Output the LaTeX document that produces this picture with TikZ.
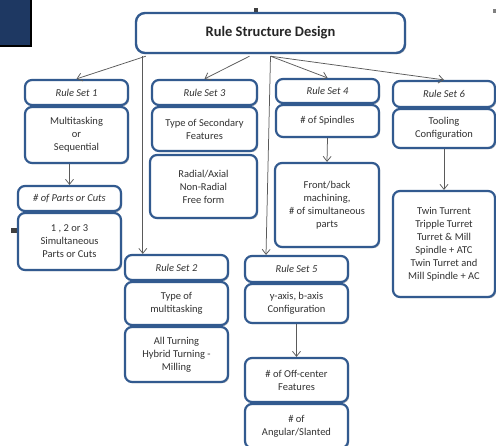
\documentclass[tikz,border=0pt]{standalone}
\usepackage{fontspec}
\setmainfont{Carlito}
\usetikzlibrary{arrows.meta,shadows}
\definecolor{boxblue}{RGB}{50,90,143}
\definecolor{textgray}{RGB}{50,50,50}
\definecolor{linkgray}{RGB}{90,90,90}
\definecolor{navy}{RGB}{30,56,98}
\tikzset{
  box/.style={draw=boxblue, line width=2.2pt, rounded corners=7pt, fill=white,
    align=center, text=textgray, inner sep=2pt,
    font=\fontsize{10.5}{13}\selectfont,
    drop shadow={shadow xshift=1.2pt, shadow yshift=-1.2pt, opacity=0.25, fill=black}},
  hdr/.style={box, font=\fontsize{10.5}{13}\selectfont\itshape},
  link/.style={draw=linkgray, line width=0.75pt, -{Straight Barb[length=5pt,width=8pt]}}
}
\begin{document}
\begin{tikzpicture}[x=1pt,y=-1pt]
\useasboundingbox (0,0) rectangle (496,446);
\fill[white] (0,0) rectangle (496,446);

% corner block and small marks
\draw[fill=navy, line width=1.5pt] (-2,-2) rectangle (31,46);
\fill[black!75] (254,8) rectangle (258,15);
\fill[black!50] (493,9) rectangle (496,13);
\fill[black!75] (11,228) rectangle (17,233);

% title
\node[box, line width=2.4pt, rounded corners=9pt, minimum width=269pt, minimum height=40pt,
      font=\fontsize{14.5}{17}\selectfont\bfseries, text=black!85] (main) at (270.5,33) {Rule Structure Design};

% rule set 1 column
\node[hdr, minimum width=103pt, minimum height=25pt] (rs1h) at (76.5,92.5) {Rule Set 1};
\node[box, minimum width=103pt, minimum height=56pt] (rs1b) at (76.5,135) {Multitasking\\or\\Sequential};
\node[hdr, minimum width=103pt, minimum height=25pt] (parth) at (69.5,198.5) {\# of Parts or Cuts};
\node[box, minimum width=103pt, minimum height=57pt] (partb) at (69.5,241.5) {1 , 2 or 3\\Simultaneous\\Parts or Cuts};

% rule set 3 column
\node[hdr, minimum width=105pt, minimum height=25pt] (rs3h) at (204.5,92.5) {Rule Set 3};
\node[box, minimum width=105pt, minimum height=44pt] (rs3b) at (204.5,129) {Type of Secondary\\Features};
\node[box, minimum width=107pt, minimum height=63pt] (radial) at (203.5,186.5) {Radial/Axial\\Non-Radial\\Free form};

% rule set 4 column
\node[hdr, minimum width=103pt, minimum height=24pt] (rs4h) at (327.5,91) {Rule Set 4};
\node[box, minimum width=103pt, minimum height=32pt] (rs4b) at (327.5,121) {\# of Spindles};
\node[box, minimum width=104pt, minimum height=84pt] (front) at (327,205) {Front/back\\machining,\\\# of simultaneous\\parts};

% rule set 6 column
\node[hdr, minimum width=102pt, minimum height=26pt] (rs6h) at (444,94) {Rule Set 6};
\node[box, minimum width=102pt, minimum height=39pt] (rs6b) at (444,128.5) {Tooling\\Configuration};
\node[box, minimum width=102pt, minimum height=106pt] (twin) at (444,244) {Twin Turrent\\Tripple Turret\\Turret \& Mill\\Spindle + ATC\\Twin Turret and\\Mill Spindle + AC};

% rule set 2 column
\node[hdr, minimum width=103pt, minimum height=25pt] (rs2h) at (176.5,267.5) {Rule Set 2};
\node[box, minimum width=103pt, minimum height=43pt] (rs2b) at (176.5,303.5) {Type of\\multitasking};
\node[box, minimum width=103pt, minimum height=55pt] (allturn) at (176.5,354.5) {All Turning\\Hybrid Turning -\\Milling};

% rule set 5 column
\node[hdr, minimum width=103pt, minimum height=26pt] (rs5h) at (296.5,269) {Rule Set 5};
\node[box, minimum width=103pt, minimum height=39pt] (rs5b) at (296.5,303.5) {y-axis, b-axis\\Configuration};
\node[box, minimum width=103pt, minimum height=44pt] (offc) at (296.5,380) {\# of Off-center\\Features};
\node[box, minimum width=103pt, minimum height=44pt] (angular) at (296.5,426) {\# of\\Angular/Slanted};

% connectors from the title
\coordinate (m1) at ([xshift=11pt,yshift=-2pt]main.south west);
\coordinate (m2) at ([xshift=8pt,yshift=-2pt]main.south west);
\coordinate (m3) at ([xshift=-21pt,yshift=-2pt]main.south);
\coordinate (m4) at ([yshift=-2pt]main.south);
\draw[link] (m1) -- (rs1h.north);
\draw[link] (m2) -- (m2 |- rs2h.north);
\draw[link] (m3) -- (rs3h.north);
\draw[link] (m4) -- (rs4h.north);
\draw[link] (m4) -- (rs6h.north);
\draw[link] (m4) -- ([xshift=-30.5pt]rs5h.north);

% connectors inside columns
\draw[link] (rs1b.south -| parth.north) -- (parth.north);
\draw[link] (rs4b.south) -- (front.north);
\draw[link] (rs6b.south) -- (twin.north);
\draw[link] (rs5b.south) -- (offc.north);
\end{tikzpicture}
\end{document}
